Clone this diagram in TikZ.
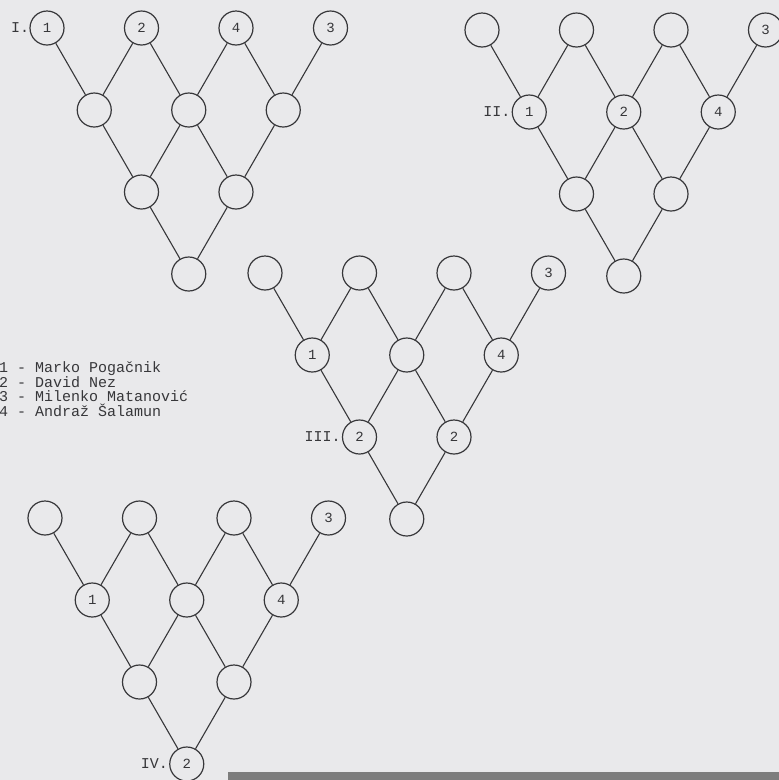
\documentclass[tikz,border=0pt]{standalone}
\usepackage{fontspec}
\setmonofont{Liberation Mono}
\definecolor{paper}{RGB}{233,233,235}
\definecolor{ink}{RGB}{55,55,58}
\definecolor{strip}{RGB}{125,125,125}
\tikzset{
  cnode/.style={circle, draw=ink, line width=1.2pt, minimum size=34pt, inner sep=0pt},
  edge/.style={draw=ink, line width=1.1pt},
  lbl/.style={text=ink, font=\ttfamily\fontsize{14}{14}\selectfont, inner sep=0pt},
  tag/.style={text=ink, font=\ttfamily\fontsize{15}{15}\selectfont, inner sep=1pt, anchor=east},
  legend/.style={text=ink, font=\ttfamily\fontsize{15}{15}\selectfont, inner sep=0pt, anchor=base west}
}
\newcommand\mylattice[3]{%
  \foreach \i in {0,...,3}{\node[cnode] (#1a\i) at ({#2+\i*94.5},{#3}) {};}
  \foreach \i in {0,1,2}{\node[cnode] (#1b\i) at ({#2+47.25+\i*94.5},{#3+82}) {};}
  \foreach \i in {0,1}{\node[cnode] (#1c\i) at ({#2+94.5+\i*94.5},{#3+164}) {};}
  \node[cnode] (#1d0) at ({#2+141.75},{#3+246}) {};
  \path[edge] (#1a0)--(#1b0) (#1a1)--(#1b0) (#1a1)--(#1b1) (#1a2)--(#1b1)
    (#1a2)--(#1b2) (#1a3)--(#1b2)
    (#1b0)--(#1c0) (#1b1)--(#1c0) (#1b1)--(#1c1) (#1b2)--(#1c1)
    (#1c0)--(#1d0) (#1c1)--(#1d0);
}
\begin{document}
\begin{tikzpicture}[x=1pt,y=-1pt]
\fill[paper] (0,0) rectangle (779,780);
\useasboundingbox (0,0) rectangle (779,780);
\fill[strip] (228,772) rectangle (779,780);

% Diagram I
\mylattice{I}{47}{28}
\node[lbl] at (Ia0) {1};
\node[lbl] at (Ia1) {2};
\node[lbl] at (Ia2) {4};
\node[lbl] at (Ia3) {3};
\node[tag, inner sep=0pt] at (Ia0.west) {I.};

% Diagram II
\mylattice{II}{482}{30}
\node[lbl] at (IIa3) {3};
\node[lbl] at (IIb0) {1};
\node[lbl] at (IIb1) {2};
\node[lbl] at (IIb2) {4};
\node[tag] at (IIb0.west) {II.};

% Diagram III
\mylattice{III}{265}{273}
\node[lbl] at (IIIa3) {3};
\node[lbl] at (IIIb0) {1};
\node[lbl] at (IIIb2) {4};
\node[lbl] at (IIIc0) {2};
\node[lbl] at (IIIc1) {2};
\node[tag] at (IIIc0.west) {III.};

% Diagram IV
\mylattice{IV}{45}{518}
\node[lbl] at (IVa3) {3};
\node[lbl] at (IVb0) {1};
\node[lbl] at (IVb2) {4};
\node[lbl] at (IVd0) {2};
\node[tag] at (IVd0.west) {IV.};

% Legend
\node[legend] (L1) at (-1,372.5) {1 - Marko Pogačnik};
\node[legend] (L2) at (-1,387.2) {2 - David Nez};
\node[legend] (L3) at (-1,401.9) {3 - Milenko Matanović};
\node[legend] (L4) at (-1,416.6) {4 - Andraž Šalamun};
\end{tikzpicture}
\end{document}
